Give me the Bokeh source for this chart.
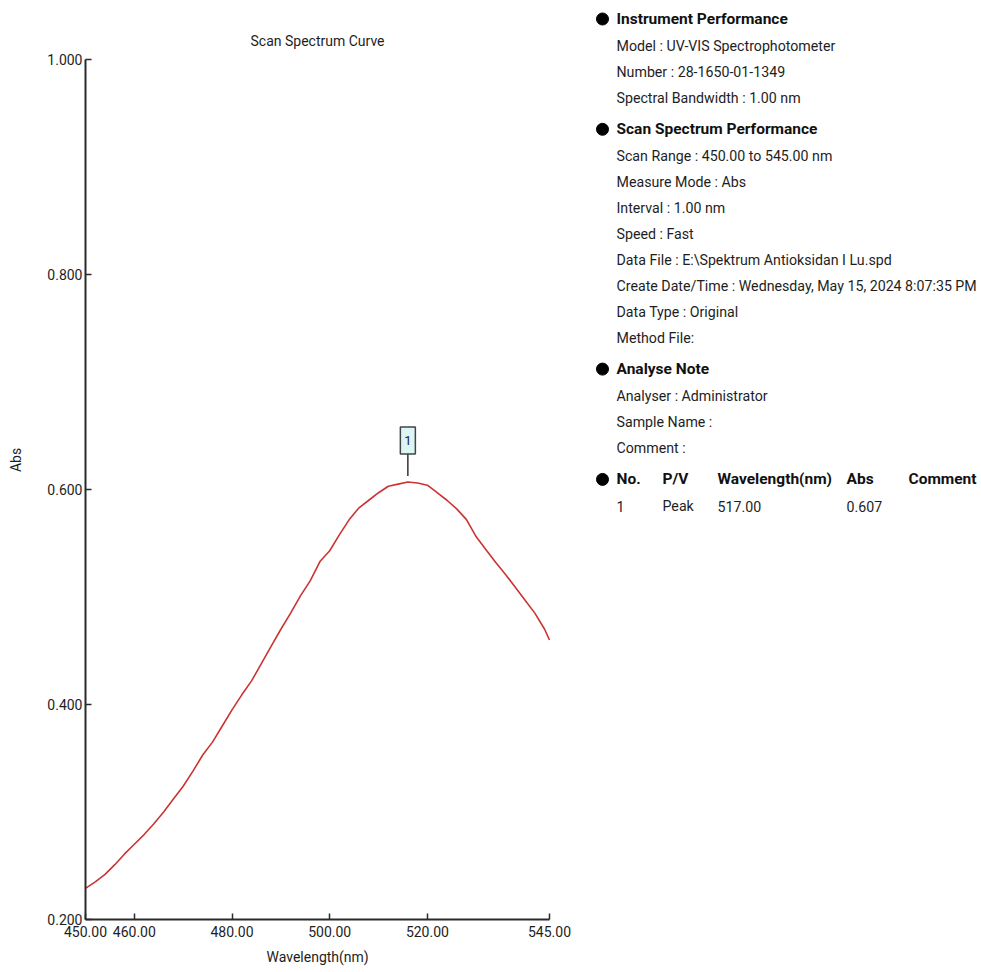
from bokeh.plotting import figure
from bokeh.models import Range1d, FixedTicker, NumeralTickFormatter, ColumnDataSource, Title
from bokeh.embed import file_html
from bokeh.resources import INLINE
from bokeh.core.properties import value

# ---------------- data ----------------
wavelength = [450, 452, 454, 456, 458, 460, 462, 464, 466, 468, 470, 472, 474, 476, 478,
              480, 482, 484, 486, 488, 490, 492, 494, 496, 498, 500, 502, 504, 506, 508,
              510, 512, 514, 516, 518, 520, 522, 524, 526, 528, 530, 532, 534, 536, 538,
              540, 542, 544, 545]
absorbance = [0.229, 0.235, 0.242, 0.251, 0.261, 0.270, 0.279, 0.289, 0.300, 0.312, 0.324,
              0.338, 0.353, 0.365, 0.380, 0.395, 0.409, 0.422, 0.438, 0.454, 0.470, 0.485,
              0.501, 0.515, 0.533, 0.543, 0.558, 0.572, 0.583, 0.590, 0.597, 0.603, 0.605,
              0.607, 0.606, 0.604, 0.597, 0.590, 0.582, 0.572, 0.556, 0.544, 0.532, 0.521,
              0.509, 0.497, 0.485, 0.470, 0.460]

x_ticks = [450, 460, 480, 500, 520, 545]
y_ticks = [0.2, 0.4, 0.6, 0.8, 1.0]
x_limits = (450, 545)
y_limits = (0.2, 1.0)

chart_title = "Scan Spectrum Curve"
x_title = "Wavelength(nm)"
y_title = "Abs"

peak_no = ["1"]
peak_type = ["Peak"]
peak_wavelength = [517.00]
peak_abs = [0.607]
marker_wavelength = [516.0]   # where the "1" flag is drawn in the picture

section_titles = ["Instrument Performance", "Scan Spectrum Performance", "Analyse Note"]
section_items = [
    ["Model : UV-VIS Spectrophotometer",
     "Number : 28-1650-01-1349",
     "Spectral Bandwidth : 1.00 nm"],
    ["Scan Range : 450.00 to 545.00 nm",
     "Measure Mode : Abs",
     "Interval : 1.00 nm",
     "Speed : Fast",
     "Data File : E:\\Spektrum Antioksidan I Lu.spd",
     "Create Date/Time : Wednesday, May 15, 2024 8:07:35 PM",
     "Data Type : Original",
     "Method File:"],
    ["Analyser : Administrator",
     "Sample Name :",
     "Comment :"],
]
table_columns = ["No.", "P/V", "Wavelength(nm)", "Abs", "Comment"]

# ---------------- layout / style ----------------
FONT = "Roboto"
TXT = "#1e1e1e"
FIG_W, FIG_H = 980, 971
CHART_LEFT, CHART_TOP, CHART_W, CHART_H = 85, 59, 464, 860   # page pixels of the plot area
BB = FIG_H - CHART_TOP - CHART_H
nm_per_px = (x_limits[1] - x_limits[0]) / CHART_W
abs_per_px = (y_limits[1] - y_limits[0]) / CHART_H

# frame covers everything right of / above the axes so nothing gets clipped;
# the axes themselves are limited to the chart area with `bounds`
p = figure(width=FIG_W, height=FIG_H,
           x_range=Range1d(x_limits[0], x_limits[0] + (FIG_W - CHART_LEFT) * nm_per_px),
           y_range=Range1d(y_limits[0], y_limits[1] + CHART_TOP * abs_per_px),
           output_backend="svg", toolbar_location=None,
           min_border_left=CHART_LEFT, min_border_right=0, min_border_top=0,
           min_border_bottom=BB)
p.extra_x_ranges = {"page": Range1d(CHART_LEFT, FIG_W)}
p.extra_y_ranges = {"page": Range1d(CHART_TOP + CHART_H, 0)}
p.outline_line_color = None
p.grid.visible = False

for ax in (p.xaxis[0], p.yaxis[0]):
    ax.axis_line_color = "#2a2a2a"
    ax.axis_line_width = 2
    ax.major_tick_line_color = "#2a2a2a"
    ax.major_tick_line_width = 1.5
    ax.major_tick_in = 6
    ax.major_tick_out = 0
    ax.minor_tick_line_color = None
    ax.major_label_text_font = FONT
    ax.major_label_text_font_size = "14px"
    ax.major_label_text_color = TXT
    ax.axis_label_text_font = FONT
    ax.axis_label_text_font_size = "14px"
    ax.axis_label_text_font_style = "normal"
    ax.axis_label_text_color = TXT

p.xaxis.bounds = x_limits
p.xaxis.ticker = FixedTicker(ticks=x_ticks)
p.xaxis.formatter = NumeralTickFormatter(format="0.00")
p.xaxis.major_label_standoff = 6

p.yaxis.bounds = y_limits
p.yaxis.ticker = FixedTicker(ticks=y_ticks)
p.yaxis.formatter = NumeralTickFormatter(format="0.000")
p.yaxis.axis_label = y_title
p.yaxis.major_label_standoff = 3
p.yaxis.axis_label_standoff = 20

# x-axis title, centred under the chart area (left-aligned title shifted by an offset)
X_TITLE_W = 102
p.add_layout(Title(text=x_title, align="left",
                   offset=CHART_W / 2 - X_TITLE_W / 2,
                   text_font=FONT, text_font_size="14px", text_font_style="normal",
                   text_color=TXT, standoff=14), "below")

src = ColumnDataSource(dict(x=wavelength, y=absorbance))
p.line("x", "y", source=src, line_color="#cc3333", line_width=1.6)

# chart title, centred over the chart area
p.text(x=[CHART_LEFT + CHART_W / 2], y=[40], text=[chart_title], x_range_name="page",
       y_range_name="page", text_font=value(FONT), text_font_size="14px",
       text_color=TXT, text_align="center", text_baseline="middle")

# peak flag
stem_bottom = [a + 6 * abs_per_px for a in peak_abs]
stem_top = [a + 28 * abs_per_px for a in peak_abs]
box_mid = [a + 41.5 * abs_per_px for a in peak_abs]
p.segment(x0=marker_wavelength, y0=stem_bottom, x1=marker_wavelength, y1=stem_top,
          line_color="#333333", line_width=1.5)
p.rect(x=marker_wavelength, y=box_mid, width=15, height=27, width_units="screen",
       height_units="screen", fill_color="#dcf6f6", line_color="#444444", line_width=1.5)
p.text(x=marker_wavelength, y=box_mid, text=peak_no, text_font=value(FONT),
       text_font_size="13px", text_color="#222244", text_align="center",
       text_baseline="middle")

# ---------------- info panel (page-pixel coordinates) ----------------
bx, hx = 602, 616
y = 18.5
head_y, head_t, item_y, item_t = [], [], [], []
for title, items in zip(section_titles, section_items):
    head_y.append(y); head_t.append(title)
    y += 27
    for it in items:
        item_y.append(y); item_t.append(it)
        y += 25.9
    y += 31.5 - 25.9
table_y = y
row_y = table_y + 26.6

common = dict(x_range_name="page", y_range_name="page", text_font=value(FONT),
              text_baseline="middle", text_align="left")
p.scatter(x=[bx] * (len(head_y) + 1), y=head_y + [table_y], size=12, marker="circle",
          fill_color="black", line_color="black", x_range_name="page", y_range_name="page")
p.text(x=[hx] * len(head_y), y=head_y, text=head_t, text_font_size="15.5px",
       text_font_style="bold", text_color="#111111", **common)
p.text(x=[hx] * len(item_y), y=item_y, text=item_t, text_font_size="14.2px",
       text_color=TXT, **common)

col_x = [616, 662, 717, 846, 908]
p.text(x=col_x, y=[table_y] * len(col_x), text=table_columns, text_font_size="15.5px",
       text_font_style="bold", text_color="#111111", **common)
row_vals = [peak_no[0], peak_type[0], "%.2f" % peak_wavelength[0], "%.3f" % peak_abs[0]]
p.text(x=col_x[:4], y=[row_y] * 4, text=row_vals, text_font_size="14.2px",
       text_color=TXT, **common)

open("out.html", "w").write(file_html(p, INLINE))
